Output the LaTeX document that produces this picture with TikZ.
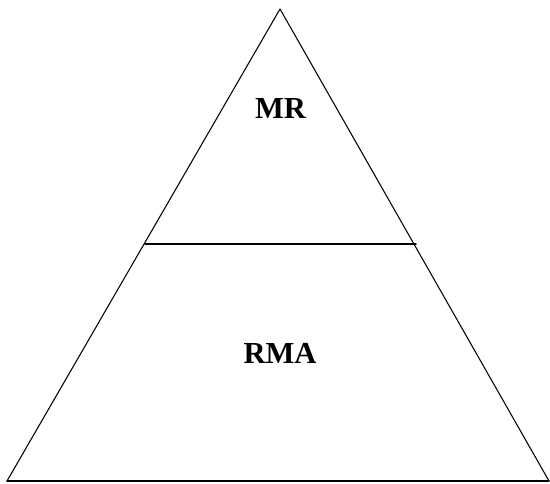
\documentclass[tikz,border=0pt]{standalone}
\usepackage{fontspec}
\setmainfont{Liberation Serif}
\begin{document}
\begin{tikzpicture}[x=0.02cm, y=-0.02cm, line join=round, line cap=round, font=\fontsize{17.4}{20}\selectfont\bfseries]
			\useasboundingbox (0,0) rectangle (550,483);
			\path
			(280,9)coordinate(A)
			(7,481)coordinate(B)
			(549,481)coordinate(C)
			(145,244)coordinate(L)
			(416,244)coordinate(R)
			;
			\draw[line width=0.6pt] (B)--(A)--(C);
			\draw[line width=0.8pt] (B)--(C);
			\draw[line width=1pt] (L)--(R);
			\node (MR) at (280.5,108.5) {MR};
			\node (RMA) at (280,353) {RMA};
			\end{tikzpicture}
\end{document}
